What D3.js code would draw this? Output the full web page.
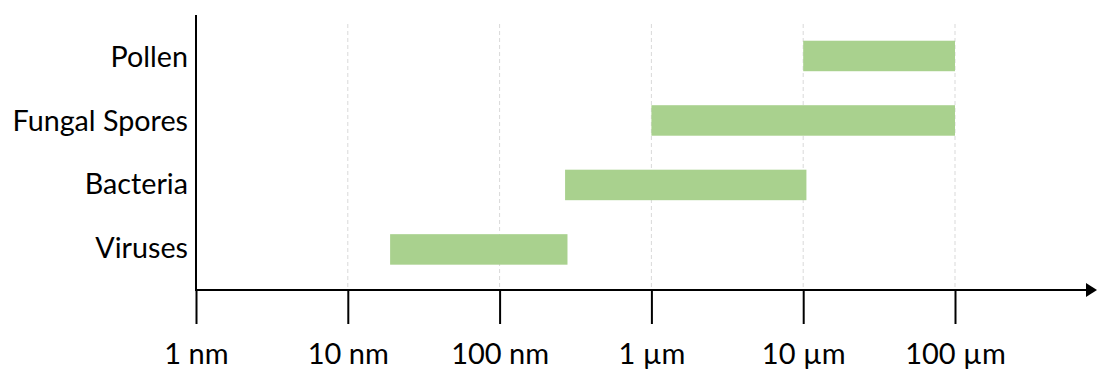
<!DOCTYPE html>
<html><head><meta charset="utf-8">
<script src="https://cdn.jsdelivr.net/npm/d3@7"></script>
<style>html,body{margin:0;padding:0;background:#fff;}svg{display:block;}</style>
</head><body>
<svg id="chart" width="1097" height="370"></svg>
<script>
// Data (sizes in nanometres)
const categories = ["Pollen", "Fungal Spores", "Bacteria", "Viruses"];
const sizeMin = [10000, 1000, 270, 19];
const sizeMax = [100000, 100000, 10500, 280];
const tickValues = [1, 10, 100, 1000, 10000, 100000];
const tickLabels = ["1 nm", "10 nm", "100 nm", "1 µm", "10 µm", "100 µm"];

const svg = d3.select("#chart");
const font = "Lato, 'Open Sans', sans-serif";

const x = d3.scaleLog().domain([1, 100000]).range([196, 955]);
const y = d3.scaleBand().domain(categories).range([24.6, 280.8])
  .paddingInner(0.527).paddingOuter(0.25);
const labelY = d3.scalePoint().domain(categories).range([67, 257.5]);
const axisY = 290;

// gridlines
svg.append("g").selectAll("line").data(tickValues.slice(1)).join("line")
  .attr("x1", d => x(d)).attr("x2", d => x(d))
  .attr("y1", 24).attr("y2", axisY)
  .attr("stroke", "#d9d9d9").attr("stroke-width", 1)
  .attr("stroke-dasharray", "4,3");

// bars
svg.append("g").selectAll("rect").data(categories).join("rect")
  .attr("x", (d, i) => x(sizeMin[i]))
  .attr("width", (d, i) => x(sizeMax[i]) - x(sizeMin[i]))
  .attr("y", d => y(d))
  .attr("height", y.bandwidth())
  .attr("fill", "#a9d18e");

// x axis
const xAxis = d3.axisBottom(x).tickValues(tickValues)
  .tickFormat((d, i) => tickLabels[i]).tickSize(34);
const gx = svg.append("g").attr("transform", `translate(0,${axisY})`).call(xAxis);
gx.select(".domain").remove();
gx.selectAll(".tick line").attr("stroke", "#000").attr("stroke-width", 2);
gx.selectAll(".tick text").attr("fill", "#000").attr("y", 74).attr("dy", 0)
  .style("font-family", font).style("font-size", "29px");

svg.append("line").attr("x1", 195).attr("x2", 1088)
  .attr("y1", axisY).attr("y2", axisY).attr("stroke", "#000").attr("stroke-width", 2);
svg.append("path").attr("d", `M1086,${axisY-7}L1097,${axisY}L1086,${axisY+7}Z`).attr("fill", "#000");

// y axis
svg.append("line").attr("x1", 196).attr("x2", 196)
  .attr("y1", 15).attr("y2", axisY + 1).attr("stroke", "#000").attr("stroke-width", 2);

svg.append("g").selectAll("text").data(categories).join("text")
  .attr("x", 188).attr("y", d => labelY(d))
  .attr("text-anchor", "end").attr("fill", "#000")
  .style("font-family", font).style("font-size", "28.7px")
  .text(d => d);
</script>
</body></html>
